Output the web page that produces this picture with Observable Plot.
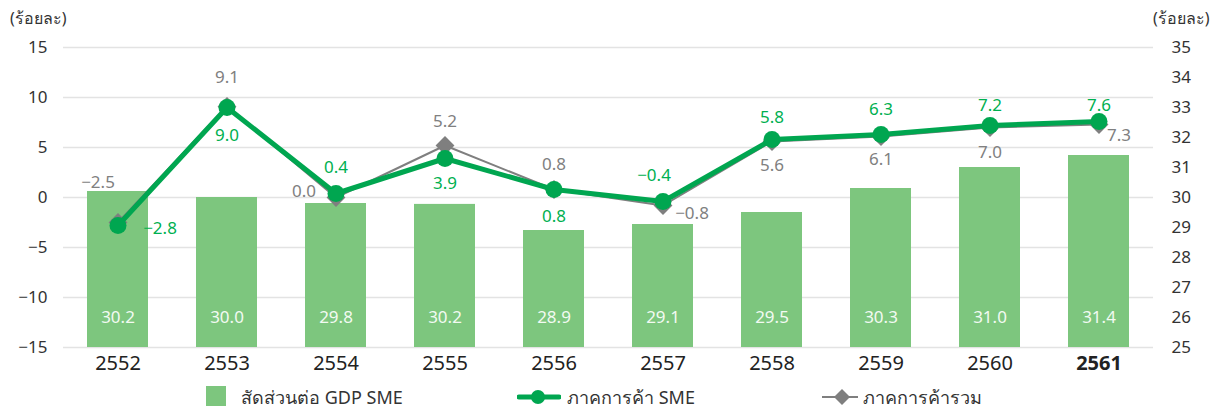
<!DOCTYPE html>
<html>
<head>
<meta charset="utf-8">
<script src="https://cdn.jsdelivr.net/npm/d3@7"></script>
<script src="https://cdn.jsdelivr.net/npm/@observablehq/plot@0.6"></script>
<style>
  body { margin: 0; background: #fff; font-family: "Noto Sans", sans-serif; }
  #wrap { position: relative; width: 1216px; height: 410px; }
  .unit { position: absolute; top: 6px; font-size: 16px; color: #333; }
  .leg { position: absolute; font-size: 18px; color: #333; line-height: 20px; white-space: nowrap; }
</style>
</head>
<body>
<div id="wrap"></div>
<script>
// ---- data ----
const years = ["2552","2553","2554","2555","2556","2557","2558","2559","2560","2561"];
const gdpShare = [30.2, 30.0, 29.8, 29.77, 28.9, 29.1, 29.5, 30.3, 31.0, 31.4];   // bar heights as drawn (right axis)
const gdpShareLabel = ["30.2", "30.0", "29.8", "30.2", "28.9", "29.1", "29.5", "30.3", "31.0", "31.4"]; // printed values
const smeTrade = [-2.8, 9.0, 0.4, 3.9, 0.8, -0.4, 5.8, 6.3, 7.2, 7.6];          // left axis
const totalTrade = [-2.5, 9.1, 0.0, 5.2, 0.8, -0.8, 5.6, 6.1, 7.0, 7.3];        // left axis
const leftTicks = [-15, -10, -5, 0, 5, 10, 15];
const rightTicks = [25, 26, 27, 28, 29, 30, 31, 32, 33, 34, 35];
const unitLabel = "(ร้อยละ)";
const legendLabels = ["สัดส่วนต่อ GDP SME", "ภาคการค้า SME", "ภาคการค้ารวม"];

// label placement offsets (styling)
const smeDx = [42, 0, 0, 0, 0, -9, 0, 0, 0, 0];
const smeDy = [3, 28, -26, 25, 27, -26, -22, -25, -20, -16];
const totDx = [-20, 0, -32, 0, 0, 29, 0, 0, 0, 20];
const totDy = [-40, -29, -6, -24, -25, 8, 24, 23, 25, 11];

// map right axis (25..35) onto left axis (-15..15)
const toLeft = v => (v - 30) * 3;

const rows = years.map((y, i) => ({year: y, share: gdpShare[i], shareLabel: gdpShareLabel[i], sme: smeTrade[i], total: totalTrade[i], i}));

const GREEN = "#00A650", BAR = "#7DC67E", GRAY = "#7F7F7F";

const labelMarks = [];
rows.forEach((d, i) => {
  labelMarks.push(Plot.text([d], {x: "year", y: "total", text: r => r.total.toFixed(1).replace("-", "−"),
    dx: totDx[i], dy: totDy[i], fill: "#808080", fontSize: 17}));
});
rows.forEach((d, i) => {
  labelMarks.push(Plot.text([d], {x: "year", y: "sme", text: r => r.sme.toFixed(1).replace("-", "−"),
    dx: smeDx[i], dy: smeDy[i], fill: "#00B050", fontSize: 17}));
});

const chart = Plot.plot({
  width: 1216,
  height: 378,
  marginTop: 47,
  marginBottom: 31,
  marginLeft: 63,
  marginRight: 63,
  style: {fontFamily: "'Noto Sans', sans-serif", background: "#fff", color: "#333"},
  x: {type: "band", domain: years, paddingInner: 0.44, paddingOuter: 0.22, axis: null},
  y: {domain: [-15, 15], axis: null},
  marks: [
    Plot.gridY(leftTicks, {stroke: "#e3e3e3", strokeOpacity: 1, strokeWidth: 1.5}),
    Plot.barY(rows, {x: "year", y1: -15, y2: d => toLeft(d.share), fill: BAR}),
    Plot.text(rows, {x: "year", y: () => toLeft(26), text: "shareLabel", fill: "#F2FAF2", fontSize: 17}),
    Plot.axisY({anchor: "left", ticks: leftTicks, tickSize: 0, tickPadding: 16, fontSize: 17, label: null,
      tickFormat: d => String(d).replace("-", "−")}),
    Plot.axisY({anchor: "right", ticks: rightTicks.map(toLeft), tickSize: 0, tickPadding: 18, fontSize: 17, label: null,
      tickFormat: d => String(Math.round(d / 3 + 30))}),
    Plot.text(years.filter(y => y !== "2561"), {x: d => d, frameAnchor: "bottom", dy: 22, fontSize: 20, fill: "#222"}),
    Plot.text(years.filter(y => y === "2561"), {x: d => d, frameAnchor: "bottom", dy: 22, fontSize: 20, fill: "#222", fontWeight: "bold"}),
    Plot.line(rows, {x: "year", y: "total", stroke: GRAY, strokeWidth: 2}),
    Plot.dot(rows, {x: "year", y: "total", symbol: "diamond2", r: 8.5, fill: GRAY, stroke: "none"}),
    Plot.line(rows, {x: "year", y: "sme", stroke: GREEN, strokeWidth: 5}),
    Plot.dot(rows, {x: "year", y: "sme", r: 8.5, fill: GREEN, stroke: "none"}),
    ...labelMarks
  ]
});

const wrap = document.getElementById("wrap");
wrap.appendChild(chart);

// unit labels
const u1 = document.createElement("div"); u1.className = "unit"; u1.style.left = "10px"; u1.textContent = unitLabel;
const u2 = document.createElement("div"); u2.className = "unit"; u2.style.left = "1153px"; u2.textContent = unitLabel;
wrap.appendChild(u1); wrap.appendChild(u2);

// legend
const NS = "http://www.w3.org/2000/svg";
function legendSwatch(left, kind) {
  const s = document.createElementNS(NS, "svg");
  s.setAttribute("width", 44); s.setAttribute("height", 24);
  s.style.position = "absolute"; s.style.left = left + "px"; s.style.top = "385px";
  if (kind === "bar") {
    const r = document.createElementNS(NS, "rect");
    r.setAttribute("x", 0); r.setAttribute("y", 1); r.setAttribute("width", 20); r.setAttribute("height", 20);
    r.setAttribute("fill", BAR); s.appendChild(r);
  } else if (kind === "sme") {
    const l = document.createElementNS(NS, "line");
    l.setAttribute("x1", 2); l.setAttribute("x2", 42); l.setAttribute("y1", 12); l.setAttribute("y2", 12);
    l.setAttribute("stroke", GREEN); l.setAttribute("stroke-width", 5); l.setAttribute("stroke-linecap", "round");
    s.appendChild(l);
    const c = document.createElementNS(NS, "circle");
    c.setAttribute("cx", 21); c.setAttribute("cy", 12); c.setAttribute("r", 7); c.setAttribute("fill", GREEN);
    s.appendChild(c);
  } else {
    const l = document.createElementNS(NS, "line");
    l.setAttribute("x1", 1); l.setAttribute("x2", 37); l.setAttribute("y1", 12); l.setAttribute("y2", 12);
    l.setAttribute("stroke", GRAY); l.setAttribute("stroke-width", 2);
    s.appendChild(l);
    const p = document.createElementNS(NS, "path");
    p.setAttribute("d", "M21,4 L29,12 L21,20 L13,12 Z"); p.setAttribute("fill", GRAY);
    s.appendChild(p);
  }
  wrap.appendChild(s);
}
function legendText(left, txt) {
  const t = document.createElement("div"); t.className = "leg";
  t.style.left = left + "px"; t.style.top = "387px"; t.textContent = txt;
  wrap.appendChild(t);
}
legendSwatch(206, "bar"); legendText(241, legendLabels[0]);
legendSwatch(517, "sme"); legendText(567, legendLabels[1]);
legendSwatch(821, "tot"); legendText(863, legendLabels[2]);
</script>
</body>
</html>
